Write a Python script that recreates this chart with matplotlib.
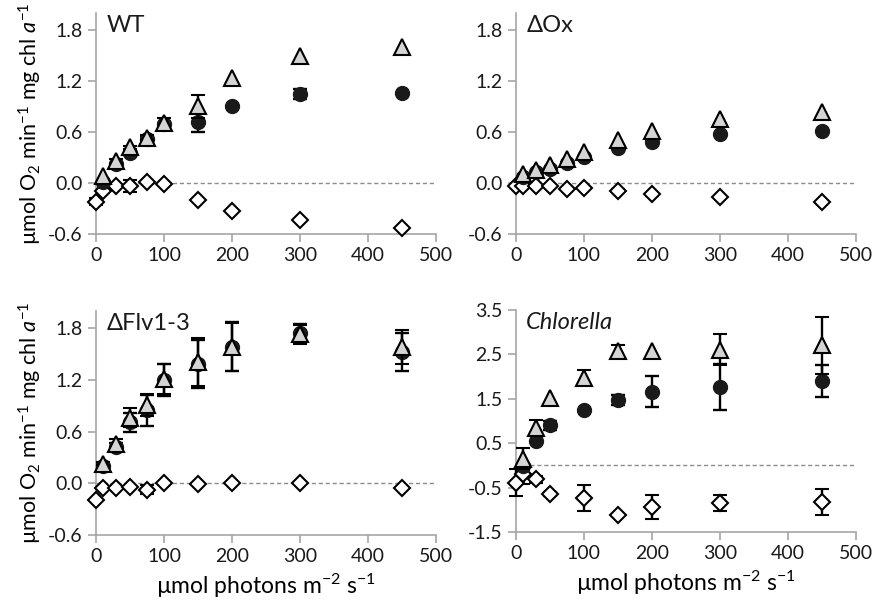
import matplotlib as mpl
mpl.use('Agg')
import matplotlib.pyplot as plt
import numpy as np

plt.rcParams['font.family'] = ['Lato', 'DejaVu Sans']
plt.rcParams['mathtext.fontset'] = 'custom'
plt.rcParams['mathtext.rm'] = 'Lato'
plt.rcParams['mathtext.it'] = 'Lato:italic'
plt.rcParams['axes.unicode_minus'] = False

# light intensities (umol photons m-2 s-1)
x_all = [0, 10, 30, 50, 75, 100, 150, 200, 300, 450]
x_light = [10, 30, 50, 75, 100, 150, 200, 300, 450]
x_chl_all = [0, 10, 30, 50, 100, 150, 200, 300, 450]
x_chl_light = [10, 30, 50, 100, 150, 200, 300, 450]

# WT
wt_net = [0.01, 0.22, 0.35, 0.52, 0.69, 0.72, 0.91, 1.05, 1.06]
wt_net_err = [0, 0, 0.02, 0.02, 0.02, 0.12, 0, 0.06, 0]
wt_gross = [0.08, 0.26, 0.42, 0.53, 0.71, 0.90, 1.23, 1.49, 1.60]
wt_gross_err = [0, 0.02, 0.02, 0.03, 0.06, 0.14, 0, 0, 0]
wt_uptake = [-0.22, -0.10, -0.03, -0.04, 0.015, -0.01, -0.20, -0.33, -0.44, -0.53]
wt_uptake_err = [0.04, 0.02, 0, 0.07, 0, 0, 0, 0, 0, 0]

# dOx
ox_net = [0.07, 0.13, 0.17, 0.23, 0.30, 0.41, 0.48, 0.58, 0.61]
ox_net_err = [0, 0, 0, 0.01, 0.01, 0.01, 0.01, 0, 0]
ox_gross = [0.10, 0.155, 0.21, 0.28, 0.36, 0.50, 0.61, 0.75, 0.83]
ox_gross_err = [0, 0, 0, 0, 0, 0, 0, 0, 0]
ox_uptake = [-0.03, -0.04, -0.04, -0.04, -0.07, -0.06, -0.09, -0.135, -0.17, -0.22]
ox_uptake_err = [0, 0, 0, 0, 0, 0, 0.02, 0.02, 0, 0]

# dFlv1-3
flv_net = [0.20, 0.42, 0.71, 0.85, 1.20, 1.39, 1.585, 1.74, 1.53]
flv_net_err = [0.03, 0.05, 0.11, 0.18, 0.19, 0.28, 0.285, 0.11, 0.22]
flv_gross = [0.23, 0.46, 0.76, 0.91, 1.21, 1.41, 1.585, 1.73, 1.585]
flv_gross_err = [0.02, 0.05, 0.11, 0.13, 0.17, 0.28, 0.275, 0.11, 0.20]
flv_uptake = [-0.19, -0.05, -0.05, -0.04, -0.075, 0.0, -0.01, 0.0, 0.0, -0.05]
flv_uptake_err = [0, 0, 0, 0, 0.05, 0, 0, 0, 0, 0]

# Chlorella
chl_net = [-0.02, 0.55, 0.90, 1.25, 1.47, 1.66, 1.77, 1.90]
chl_net_err = [0.05, 0, 0.10, 0, 0.12, 0.34, 0.52, 0.36]
chl_gross = [0.15, 0.85, 1.52, 1.97, 2.57, 2.58, 2.60, 2.70]
chl_gross_err = [0.23, 0.18, 0, 0.17, 0.15, 0, 0.35, 0.65]
chl_uptake = [-0.39, -0.20, -0.31, -0.64, -0.73, -1.12, -0.93, -0.84, -0.82]
chl_uptake_err = [0.31, 0.23, 0.08, 0.05, 0.29, 0, 0.27, 0.18, 0.29]

panels = [
    ("WT", False, x_all, x_light, wt_net, wt_net_err, wt_gross, wt_gross_err, wt_uptake, wt_uptake_err),
    ("ΔOx", False, x_all, x_light, ox_net, ox_net_err, ox_gross, ox_gross_err, ox_uptake, ox_uptake_err),
    ("ΔFlv1-3", False, x_all, x_light, flv_net, flv_net_err, flv_gross, flv_gross_err, flv_uptake, flv_uptake_err),
    ("Chlorella", True, x_chl_all, x_chl_light, chl_net, chl_net_err, chl_gross, chl_gross_err, chl_uptake, chl_uptake_err),
]

positions = [
    [0.1096, 0.6164, 0.388, 0.3623],
    [0.589, 0.6164, 0.388, 0.3623],
    [0.1096, 0.123, 0.388, 0.367],
    [0.589, 0.128, 0.388, 0.364],
]

fs = 14
spine_col = "#a6a6a6"
ylab = r"µmol O$_2$ min$^{-1}$ mg chl $a^{-1}$"
xlab = r"µmol photons m$^{-2}$ s$^{-1}$"

def no_zero(err):
    # hide bars that are smaller than the marker
    return np.array([e if e > 0 else np.nan for e in err], dtype = float)

fig = plt.figure(figsize = (8.76, 6.10), dpi = 100)

for i, (name, italic, xa, xl, net, net_e, gross, gross_e, upt, upt_e) in enumerate(panels):
    ax = fig.add_axes(positions[i])

    ax.axhline(0, color = "#8c8c8c", ls = (0, (3, 2)), lw = 1, zorder = 1)

    ekw = dict(ecolor = "black", elinewidth = 1.7, capsize = 5, capthick = 1.7, ls = "none", clip_on = False)
    ax.errorbar(xa, upt, yerr = no_zero(upt_e), fmt = "D", ms = 8, mfc = "white", mec = "black", mew = 1.5, zorder = 3, **ekw)
    ax.errorbar(xl, net, yerr = no_zero(net_e), fmt = "o", ms = 10, mfc = "#1a1a1a", mec = "#1a1a1a", zorder = 4, **ekw)
    ax.errorbar(xl, gross, yerr = no_zero(gross_e), fmt = "^", ms = 11, mfc = "#d4d4d4", mec = "black", mew = 1.5, zorder = 5, **ekw)

    ax.set_xlim(0, 500)
    ax.set_xticks([0, 100, 200, 300, 400, 500])
    if name == "Chlorella":
        ax.set_ylim(-1.5, 3.5)
        ax.set_yticks([-1.5, -0.5, 0.5, 1.5, 2.5, 3.5])
    else:
        ax.set_ylim(-0.6, 2.0)
        ax.set_yticks([-0.6, 0.0, 0.6, 1.2, 1.8])
        ax.set_yticklabels(["-0.6", "0.0", "0.6", "1.2", "1.8"])

    for s in ["top", "right"]:
        ax.spines[s].set_visible(False)
    for s in ["left", "bottom"]:
        ax.spines[s].set_color(spine_col)
        ax.spines[s].set_linewidth(1.2)
    ax.tick_params(direction = "out", length = 6, width = 1.2, color = spine_col, labelsize = fs, labelcolor = "#1a1a1a")

    ax.text(0.03, 0.99, name, transform = ax.transAxes, ha = "left", va = "top",
            fontsize = 17, style = "italic" if italic else "normal", color = "#1a1a1a")

    if i % 2 == 0:
        ax.set_ylabel(ylab, fontsize = 15.5, labelpad = 3)
    if i >= 2:
        ax.set_xlabel(xlab, fontsize = 16.5, labelpad = 5)

fig.savefig("out.png", dpi = 100)
plt.close()
